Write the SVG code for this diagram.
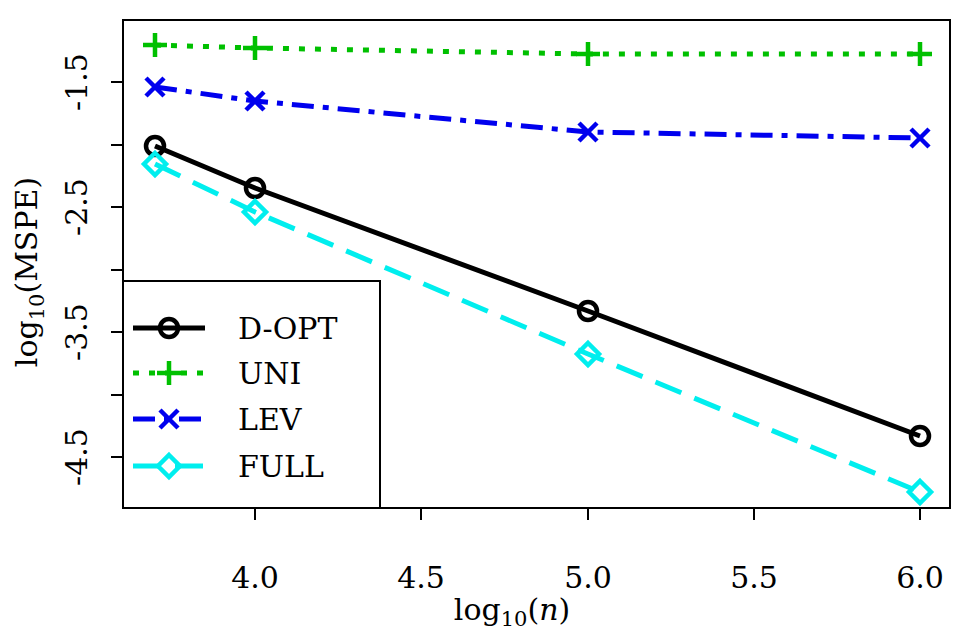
<svg xmlns="http://www.w3.org/2000/svg" width="969" height="630" viewBox="0 0 969 630">
<style>
text{font-family:"DejaVu Serif","Liberation Serif",serif;font-size:30px;fill:#000}
.ax{stroke:#000;stroke-width:2;fill:none}
.l{fill:none;stroke-width:5}
.m{fill:none;stroke-width:4.5}
</style>
<defs>
<g id="o"><circle r="9" class="m" stroke="#000"/></g>
<g id="p"><path d="M-12 0H12M0-12V12" class="m" stroke="#00c000"/></g>
<g id="x"><path d="M-9-9L9 9M-9 9L9-9" class="m" stroke="#0000ee"/></g>
<g id="d"><path d="M0-11L11 0L0 11L-11 0Z" class="m" stroke="#00eeee"/></g>
</defs>
<rect width="969" height="630" fill="#fff"/>
<g id="axes">
<rect x="123" y="20" width="827" height="488" class="ax"/>
<path class="ax" d="M255 508V520M421 508V520M588 508V520M754 508V520M920 508V520M123 82H111M123 145H111M123 207H111M123 270H111M123 332H111M123 395H111M123 457H111"/>
<g text-anchor="middle">
<text x="255" y="588">4.0</text><text x="421" y="588">4.5</text><text x="588" y="588">5.0</text><text x="754" y="588">5.5</text><text x="920" y="588">6.0</text>
<text transform="translate(87,82) rotate(-90)">-1.5</text>
<text transform="translate(87,207) rotate(-90)">-2.5</text>
<text transform="translate(87,332) rotate(-90)">-3.5</text>
<text transform="translate(87,457) rotate(-90)">-4.5</text>
<text x="512" y="620">log<tspan font-size="21" dy="6">10</tspan><tspan dy="-6">(</tspan><tspan font-style="italic">n</tspan>)</text>
<text transform="translate(37,272) rotate(-90)">log<tspan font-size="21" dy="7">10</tspan><tspan dy="-7">(MSPE)</tspan></text>
</g>
</g>
<g id="connectors">
<polyline class="l" stroke="#00c000" stroke-dasharray="6 10" points="155,45 255,48 588,54 920,54"/>
<polyline class="l" stroke="#0000ee" stroke-dasharray="22 9 6 9" points="155,87 255,101 588,132 920,138"/>
<polyline class="l" stroke="#000" points="155,146 255,188 588,311 920,436"/>
<polyline class="l" stroke="#00eeee" stroke-dasharray="28 14" points="155,164 255,212 588,354 920,492"/>
</g>
<g id="uni"><use href="#p" x="155" y="45"/><use href="#p" x="255" y="48"/><use href="#p" x="588" y="54"/><use href="#p" x="920" y="54"/></g>
<g id="lev"><use href="#x" x="155" y="87"/><use href="#x" x="255" y="101"/><use href="#x" x="588" y="132"/><use href="#x" x="920" y="138"/></g>
<g id="dopt"><use href="#o" x="155" y="146"/><use href="#o" x="255" y="188"/><use href="#o" x="588" y="311"/><use href="#o" x="920" y="436"/></g>
<g id="full"><use href="#d" x="155" y="164"/><use href="#d" x="255" y="212"/><use href="#d" x="588" y="354"/><use href="#d" x="920" y="492"/></g>
<g id="legend">
<rect x="123" y="281" width="257" height="227" fill="#fff" class="ax"/>
<path class="l" stroke="#000" d="M133 328H205"/><use href="#o" x="169" y="328"/>
<path class="l" stroke="#00c000" stroke-dasharray="6 10" d="M133 373H205"/><use href="#p" x="169" y="373"/>
<path class="l" stroke="#0000ee" stroke-dasharray="22 9 6 9" d="M133 419H205"/><use href="#x" x="169" y="419"/>
<path class="l" stroke="#00eeee" stroke-dasharray="28 14" d="M133 466H205"/><use href="#d" x="169" y="466"/>
<text x="238" y="339">D-OPT</text><text x="238" y="384">UNI</text><text x="238" y="430">LEV</text><text x="238" y="477">FULL</text>
</g>
</svg>
